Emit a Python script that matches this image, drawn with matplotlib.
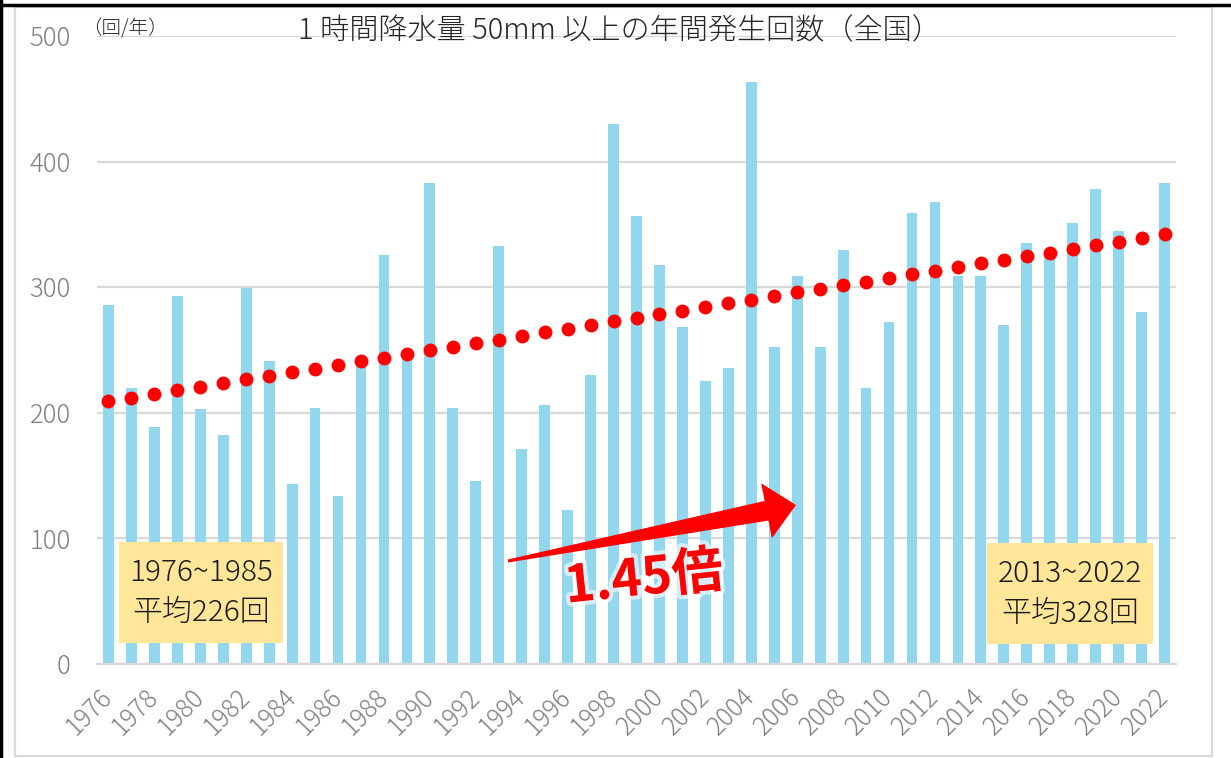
import numpy as np
import matplotlib
matplotlib.use("Agg")
import matplotlib.pyplot as plt
from matplotlib.patches import Rectangle, Polygon
from matplotlib.lines import Line2D
import matplotlib.patheffects as pe

plt.rcParams['font.family'] = ['Noto Sans CJK JP', 'DejaVu Sans']

# data
years = list(range(1976, 2023))
counts = [286, 220, 189, 293, 203, 182, 299, 241, 143, 204,
          134, 245, 326, 247, 383, 204, 146, 333, 171, 206,
          123, 230, 430, 357, 318, 268, 225, 236, 463, 252,
          309, 252, 330, 220, 272, 359, 368, 309, 309, 270,
          335, 328, 351, 378, 345, 280, 383]
tick_labels = [str(y) if (y - 1976) % 2 == 0 else "" for y in years]
title = "1 時間降水量 50mm 以上の年間発生回数（全国）"
unit = "（回/年）"
box_early = "1976~1985\n平均226回"
box_late = "2013~2022\n平均328回"
ratio_text = "1.45倍"

W, H = 1231, 758
fig = plt.figure(figsize=(W / 100, H / 100), dpi=100)


def fx(px):
    return px / W


def fy(py):
    return 1 - py / H


ax = fig.add_axes([fx(97), fy(664), fx(1176) - fx(97), fy(36) - fy(664)])

x = np.arange(len(years))
ax.bar(x, counts, width=0.47, color="#92D7EE", zorder=2)

# linear trend (Excel style dotted)
k, b = np.polyfit(x, counts, 1)
ax.plot(x, k * x + b, linestyle="none", marker="o", ms=9,
        color="#FF0000", zorder=3)

ax.set_xlim(-0.5, len(years) - 0.5)
ax.set_ylim(0, 500)
ax.set_yticks([0, 100, 200, 300, 400, 500])
ax.set_xticks(x)
ax.set_xticklabels(tick_labels, rotation=45, ha="right", va="center",
                   rotation_mode="anchor", fontweight="light")
ax.tick_params(axis="x", length=0, pad=21, labelsize=18, labelcolor="#808080")
ax.tick_params(axis="y", length=0, pad=19, labelsize=18.5, labelcolor="#808080")
for lab in ax.get_yticklabels():
    lab.set_fontweight("light")
ax.grid(axis="y", color="#D9D9D9", linewidth=1.6, zorder=0)
ax.set_axisbelow(True)
for s in ["top", "right", "left"]:
    ax.spines[s].set_visible(False)
ax.spines["bottom"].set_color("#D9D9D9")
ax.spines["bottom"].set_linewidth(1.6)

# titles
fig.text(fx(619), fy(31), title, ha="center", va="center", fontsize=21,
         color="#262626", fontweight="light")
fig.text(fx(82), fy(29), unit, ha="left", va="center", fontsize=14,
         color="#262626", fontweight="light")

# average boxes
for (x0, y0, x1, y1), txt in [((119, 542, 283, 643), box_early),
                               ((987, 543, 1153, 644), box_late)]:
    fig.add_artist(Rectangle((fx(x0), fy(y1)), fx(x1) - fx(x0), fy(y0) - fy(y1),
                             transform=fig.transFigure, facecolor="#FFE699",
                             edgecolor="none", zorder=5))
    fig.text(fx((x0 + x1) / 2), fy((y0 + y1) / 2), txt, ha="center", va="center",
             fontsize=21.5, color="#1a1a1a", linespacing=1.4, zorder=6,
             fontweight="light")

# red arrow (tapered shaft)
tail = np.array([508.0, 561.0])
tip = np.array([796.0, 505.0])
u = (tip - tail) / np.linalg.norm(tip - tail)
n = np.array([-u[1], u[0]])
base = tip - u * 30
pts_px = [tail + n * 1.5, base + n * 10, base + n * 28, tip,
          base - n * 28, base - n * 10, tail - n * 1.5]
pts = [(fx(p[0]), fy(p[1])) for p in pts_px]
fig.add_artist(Polygon(pts, closed=True, transform=fig.transFigure,
                       facecolor="#FF0000", edgecolor="none", zorder=6))

fig.text(fx(644), fy(579), ratio_text, ha="center", va="center", fontsize=37,
         fontweight="bold", color="#FF0000", rotation=6, zorder=7,
         path_effects=[pe.withStroke(linewidth=6, foreground="white", alpha=0.6)])

# chart frame
fig.add_artist(Rectangle((fx(15), fy(756)), fx(1212) - fx(15), fy(7) - fy(756),
                         transform=fig.transFigure, facecolor="none",
                         edgecolor="#D9D9D9", linewidth=1.6))
fig.add_artist(Line2D([0, 1], [fy(4.5), fy(4.5)], transform=fig.transFigure,
                      color="black", linewidth=2.5))
fig.add_artist(Line2D([fx(1.2), fx(1.2)], [0, 1], transform=fig.transFigure,
                      color="black", linewidth=2.5))

fig.savefig("out.png", dpi=100)
